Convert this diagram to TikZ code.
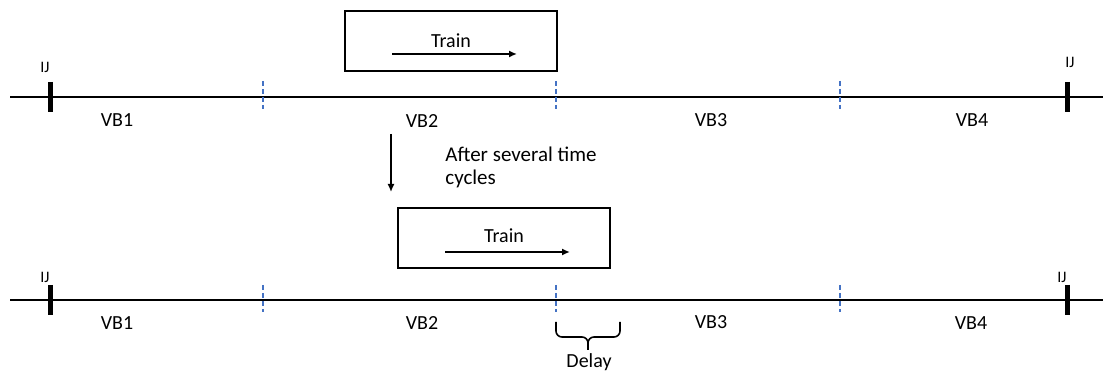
\documentclass[tikz,border=0pt]{standalone}
\usepackage{fontspec}
\setmainfont{Carlito}
\usetikzlibrary{arrows.meta, positioning}
\definecolor{vbblue}{RGB}{68,114,196}

\begin{document}
\begin{tikzpicture}[x=0.5pt, y=-0.5pt, >={Latex[length=4pt,width=3.5pt]},
    via/.style={line width=1.15pt},
    junta/.style={line width=2.5pt},
    limite/.style={draw=vbblue, line width=0.7pt, dash pattern=on 2.5pt off 1.5pt},
    caja/.style={draw, line width=1pt, minimum width=106pt, minimum height=30pt, inner sep=0pt},
    texto/.style={font=\fontsize{10}{12}\selectfont, inner sep=0pt, anchor=base},
    ijtexto/.style={font=\fontsize{8}{10}\selectfont, inner sep=0pt}]

  \useasboundingbox (0,0) rectangle (1103,373);

  % Via antes
  \coordinate (v1i) at (10,97);
  \coordinate (v1d) at (1103,97);
  \draw[via] (v1i) -- (v1d); % via
  \draw[junta] (50.5,82) -- (50.5,112); % junta aislada
  \draw[junta] (1067.5,82) -- (1067.5,112);
  \foreach \x in {263,556,840}
    \draw[limite] (\x,81) -- (\x,109); % limites de bloque

  \node[ijtexto] (ij1) at (45,67.5) {IJ};
  \node[ijtexto] (ij2) at (1070,62) {IJ};
  \node[texto] (vb11) at (117,127) {VB1};
  \node[texto] (vb12) at (422,128) {VB2};
  \node[texto] (vb13) at (711,127) {VB3};
  \node[texto] (vb14) at (972,127) {VB4};

  \node[caja] (tren1) at (451,41) {};
  \node[texto] (txt1) at (451,48) {Train};
  \coordinate (f1a) at (392,54);
  \coordinate (f1b) at (517,54);
  \draw[->, line width=1pt] (f1a) -- (f1b); % sentido del tren

  % Paso del tiempo
  \coordinate (ta) at (391,134);
  \coordinate (tb) at (391,192);
  \draw[->, line width=0.75pt] (ta) -- (tb);
  \node[anchor=base west, align=left, inner sep=0pt, font=\fontsize{10.5}{11.7}\selectfont] (tiempo) at (445,185) {After several time\\cycles};

  % Via despues
  \coordinate (v2i) at (10,300);
  \coordinate (v2d) at (1103,300);
  \draw[via] (v2i) -- (v2d);
  \draw[junta] (50.5,285) -- (50.5,315);
  \draw[junta] (1067.5,285) -- (1067.5,315);
  \foreach \x in {263,556,840}
    \draw[limite] (\x,285) -- (\x,312);

  \node[ijtexto] (ij3) at (45,277) {IJ};
  \node[ijtexto] (ij4) at (1062,277) {IJ};
  \node[texto] (vb21) at (117,330) {VB1};
  \node[texto] (vb22) at (422,330) {VB2};
  \node[texto] (vb23) at (711,329) {VB3};
  \node[texto] (vb24) at (971,330) {VB4};

  \node[caja] (tren2) at (504,238) {};
  \node[texto] (txt2) at (504,243) {Train};
  \coordinate (f2a) at (445,252);
  \coordinate (f2b) at (570,252);
  \draw[->, line width=1pt] (f2a) -- (f2b);

  % Retraso
  \draw[line width=0.8pt, rounded corners=3pt] (556,322) -- (556,337) -- (588,337) -- (588,350);
  \draw[line width=0.8pt, rounded corners=3pt] (620,322) -- (620,337) -- (588,337) -- (588,350);
  \node[texto] (retraso) at (589,368) {Delay};

\end{tikzpicture}
\end{document}
